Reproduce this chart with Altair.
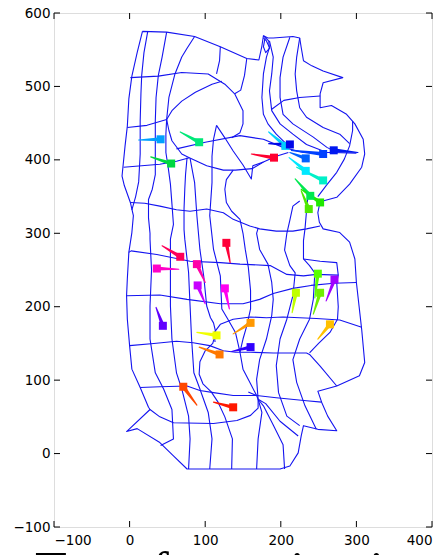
import altair as alt
import pandas as pd

# ---------------- mesh polylines (data units) ----------------
outline = [(17,575),(10,546),(3,514),(-1,483),(-3,446),(-6,419),(-10,378),(-7,365),(1,342),(5,324),(3,301),(-1,274),(-3,238),(-4,215),(-3,183),(0,147),(3,115),(14,90),(25,63),(27,60),(-4,30),(10,34),(40,15),(58,-3),(76,-21),(140,-21),(199,-21),(212,-17),(223,1),(227,24),(230,38),(249,33),(274,31),(262,51),(254,70),(249,85),(274,92),(304,106),(311,124),(307,169),(300,233),(298,265),(291,288),(278,301),(256,306),(251,315),(249,328),(252,343),(274,349),(291,367),(307,390),(311,408),(309,428),(298,449),(287,462),(267,474),(252,471),(252,490),(256,505),(282,512),(256,521),(241,528),(230,535),(227,553),(225,566),(216,568),(190,566),(183,566),(177,569),(175,555),(171,536),(155,538),(120,554),(86,568),(49,574),(17,575)]
stripe_loop = [(177,569),(184,562),(185,552),(180,546),(177,554),(179,565)]
col_a = [(24,575),(19,546),(16,515),(15,490),(14,453),(14,408),(12,370),(8,350),(3,332)]
col1 = [(49,574),(43,540),(38,515),(35,485),(34,453),(34,408),(34,380),(30,360),(25,346),(25,321),(27,300),(27,292),(29,250),(27,201),(27,156),(34,110),(45,88),(56,60),(58,20),(41,11)]
col2 = [(86,568),(76,552),(69,540),(60,517),(52,485),(49,455),(48,435),(48,410),(51,390),(54,367),(56,340),(58,312),(54,292),(54,247),(54,201),(56,156),(62,110),(69,88),(78,51),(80,20),(78,-21)]
col3 = [(76,403),(74,380),(73,360),(72,333),(72,305),(73,292),(78,247),(80,201),(82,156),(85,110),(93,88),(104,56),(109,20),(106,-21)]
col4 = [(80,402),(86,369),(89,324),(93,278),(98,242),(102,201),(107,185),(111,178),(114,165),(110,150),(100,140),(93,125),(92,108),(97,95),(108,84),(117,70),(126,50),(136,20),(135,-21)]
col5 = [(115,447),(111,428),(109,405),(109,369),(106,324),(111,278),(120,242),(122,197),(130,183),(140,165),(146,138),(150,115),(160,95),(168,79),(170,74),(175,56),(170,20),(168,-21)]
col6 = [(146,319),(150,300),(153,278),(157,254),(160,222),(160,197),(155,174),(150,156),(146,138)]
col7 = [(170,307),(168,300),(172,278),(183,258),(188,233),(190,210),(188,188),(181,156),(172,128),(168,101),(170,74),(177,65),(190,39),(203,12),(205,-21)]
col8 = [(225,344),(216,337),(212,318),(208,300),(205,277),(212,256),(219,246),(216,215),(208,183),(199,156),(194,120),(197,83),(208,51),(225,38)]
col9 = [(236,352),(234,330),(232,306),(230,290),(230,265),(238,256),(245,246),(243,210),(238,183),(225,156),(216,128),(221,97),(232,65),(247,33)]
box = [(230,265),(252,262),(274,260),(276,243),(274,233),(276,200),(275,183),(265,165),(250,150),(238,137)]
star1 = [(170,74),(180,68),(199,44),(223,24)]
star2 = [(157,84),(168,79)]
top3 = [(120,554),(119,535),(115,517)]
top4 = [(155,538),(152,515),(147,495),(139,490)]
row_a = [(1,512),(38,514),(69,519),(104,517),(126,503),(139,490),(150,467),(150,449),(146,437),(135,430)]
heart_top = [(49,455),(56,467),(69,480),(87,492),(109,503),(122,507)]
row_b = [(-3,444),(23,447),(49,455)]
heart_bot = [(49,455),(52,440),(56,426),(69,408),(79,403)]
row_c = [(-8,390),(16,392),(40,394),(62,398),(79,403),(102,392),(124,386),(140,386),(162,388),(177,397),(194,405),(210,410)]
straight = [(62,415),(100,424),(146,433),(177,428),(203,417),(230,410),(269,410),(300,409)]
zig = [(115,447),(126,430),(137,412),(150,393),(161,374),(163,392),(177,397)]
loop = [(137,386),(128,373),(126,360),(128,342),(135,330),(146,319)]
row_d = [(1,342),(20,341),(40,337),(62,332),(80,330),(102,333),(124,328),(137,319),(159,310),(172,306),(194,303),(216,303),(234,306),(252,310)]
row_e = [(-1,274),(2,276),(36,271),(80,262),(120,260),(146,258),(186,256),(208,244),(230,242),(247,244),(276,243)]
row_f = [(-4,215),(40,216),(76,210),(120,204),(150,204),(172,210),(190,218),(216,225),(240,229),(270,232),(300,233)]
row_g = [(113,152),(112,165),(120,176),(137,183),(160,186),(181,185),(203,186),(247,184),(278,182),(307,172)]
row_h = [(0,147),(32,150),(62,153),(84,151),(106,147),(124,140),(140,138),(160,138),(190,137),(234,137),(238,135),(252,119),(274,92)]
row_i = [(14,90),(40,91),(76,92),(93,86),(111,83),(137,79),(168,79),(194,76),(234,72),(254,70)]
row_j = [(27,60),(40,50),(58,42),(111,41),(142,45),(160,52),(170,62),(170,74)]
s1 = [(177,566),(181,562),(185,553),(181,540),(177,517),(175,485),(177,462),(183,449),(194,435),(208,421)]
s2 = [(185,562),(190,540),(188,517),(185,494),(188,467),(199,449),(216,435),(234,421),(256,412)]
s3 = [(212,567),(203,540),(199,512),(199,485),(203,462),(216,449),(243,431),(261,417),(274,410)]
s4 = [(225,566),(221,540),(219,517),(221,494),(225,471),(234,458),(256,444),(278,435),(291,422)]
row_r = [(188,469),(204,481),(225,485),(252,487)]
right_inner = [(295,453),(295,440),(291,419),(284,401),(274,383),(260,365),(249,350)]

mesh_lines = {
    "outline": outline, "stripe_loop": stripe_loop, "col_a": col_a, "col1": col1,
    "col2": col2, "col3": col3, "col4": col4, "col5": col5, "col6": col6,
    "col7": col7, "col8": col8, "col9": col9, "box": box, "star1": star1,
    "star2": star2, "top3": top3, "top4": top4, "row_a": row_a,
    "heart_top": heart_top, "row_b": row_b, "heart_bot": heart_bot,
    "row_c": row_c, "straight": straight, "zig": zig, "loop": loop,
    "row_d": row_d, "row_e": row_e, "row_f": row_f, "row_g": row_g,
    "row_h": row_h, "row_i": row_i, "row_j": row_j, "s1": s1, "s2": s2,
    "s3": s3, "s4": s4, "row_r": row_r, "right_inner": right_inner,
}

# ---------------- arrows: head (square) and tail tip ----------------
head_x = [206, 41, 92, 55, 212, 191, 233, 256, 270, 233, 256, 239, 252, 237,
          67, 128, 89, 36, 90, 126, 44, 115, 119, 71, 137, 160, 160, 220, 249, 252, 271, 265]
head_y = [419, 428, 424, 395, 421, 403, 402, 408, 413, 385, 372, 351, 342, 333,
          268, 287, 258, 252, 229, 225, 174, 161, 135, 91, 63, 178, 145, 219, 245, 219, 237, 176]
tip_x = [184, 12, 67, 28, 184, 161, 212, 214, 302, 211, 221, 219, 227, 227,
         43, 133, 100, 65, 100, 132, 35, 89, 92, 89, 111, 137, 135, 215, 245, 243, 260, 249]
tip_y = [438, 427, 438, 404, 422, 408, 410, 413, 410, 403, 390, 374, 360, 358,
         283, 260, 233, 251, 204, 197, 199, 165, 145, 66, 70, 163, 139, 192, 212, 190, 208, 156]
arrow_colors = ["#00d0ff", "#00a0ff", "#00e878", "#00d840", "#0008e8", "#ff0030",
                "#0060ff", "#0040ff", "#0018f0", "#00e8ff", "#00f0c8", "#00e850",
                "#20e800", "#50e800", "#ff0058", "#ff0038", "#ff00a8", "#ff00c8",
                "#c800ff", "#ff00f0", "#6000ff", "#f0ff00", "#ff7800", "#ff4800",
                "#ff1800", "#ff9800", "#3000ff", "#c0ff00", "#58ff00", "#70f000",
                "#a000ff", "#ffc000"]

x_ticks = [-100, 0, 100, 200, 300, 400]
y_ticks = [-100, 0, 100, 200, 300, 400, 500, 600]
caption = "Transformation in time"

# ---------------- build tables ----------------
rows = []
for name, pts in mesh_lines.items():
    for i, (px, py) in enumerate(pts):
        rows.append({"line": name, "i": i, "x": px, "y": py})
mesh_df = pd.DataFrame(rows)

ids = [f"a{k:02d}" for k in range(len(head_x))]
tail_rows = []
for k in range(len(head_x)):
    tail_rows.append({"id": ids[k], "i": 0, "x": head_x[k], "y": head_y[k], "w": 5.5})
    tail_rows.append({"id": ids[k], "i": 1, "x": tip_x[k], "y": tip_y[k], "w": 0.3})
tail_df = pd.DataFrame(tail_rows)
head_df = pd.DataFrame({"id": ids, "x": head_x, "y": head_y})

W, H = 378, 514
xs = alt.Scale(domain=[-100, 400], nice=False, zero=False)
ys = alt.Scale(domain=[-100, 600], nice=False, zero=False)
cscale = alt.Scale(domain=ids, range=arrow_colors)

xaxis = alt.Axis(values=x_ticks, grid=False, ticks=False, domain=False, labelFont="DejaVu Sans",
                 labelFontSize=13.5, labelColor="#000000", labelPadding=6, title=None)
yaxis = alt.Axis(values=y_ticks, grid=False, ticks=False, domain=False, labelFont="DejaVu Sans",
                 labelFontSize=13.5, labelColor="#000000", labelPadding=4, title=None)

mesh = alt.Chart(mesh_df).mark_line(color="#1414f0", strokeWidth=1.1, strokeJoin="round").encode(
    x=alt.X("x:Q", scale=xs, axis=xaxis),
    y=alt.Y("y:Q", scale=ys, axis=yaxis),
    detail="line:N",
    order="i:Q",
)

tails = alt.Chart(tail_df).mark_trail().encode(
    x=alt.X("x:Q", scale=xs),
    y=alt.Y("y:Q", scale=ys),
    detail="id:N",
    order="i:Q",
    color=alt.Color("id:N", scale=cscale, legend=None),
    size=alt.Size("w:Q", scale=alt.Scale(type="identity"), legend=None),
)

heads = alt.Chart(head_df).mark_square(size=64, opacity=1, filled=True).encode(
    x=alt.X("x:Q", scale=xs),
    y=alt.Y("y:Q", scale=ys),
    color=alt.Color("id:N", scale=cscale, legend=None),
)

xt = pd.DataFrame({"t": x_ticks})
yt = pd.DataFrame({"t": y_ticks})
tick_style = dict(color="#000000", strokeWidth=1)
xtick_bot = alt.Chart(xt).mark_rule(**tick_style).encode(x=alt.X("t:Q", scale=xs), y=alt.value(H), y2=alt.value(H - 6))
xtick_top = alt.Chart(xt).mark_rule(**tick_style).encode(x=alt.X("t:Q", scale=xs), y=alt.value(0), y2=alt.value(6))
ytick_l = alt.Chart(yt).mark_rule(**tick_style).encode(y=alt.Y("t:Q", scale=ys), x=alt.value(0), x2=alt.value(6))
ytick_r = alt.Chart(yt).mark_rule(**tick_style).encode(y=alt.Y("t:Q", scale=ys), x=alt.value(W), x2=alt.value(W - 6))

chart = alt.layer(mesh, tails, heads, xtick_bot, xtick_top, ytick_l, ytick_r).properties(
    width=W, height=H,
    autosize=alt.AutoSizeParams(type="none"),
    padding={"left": 46, "top": 5, "right": 7, "bottom": 34},
    title=alt.TitleParams(caption, orient="bottom", anchor="start", frame="group",
                          font="Liberation Serif", fontSize=52, fontWeight="normal",
                          color="#000000", dx=-19, offset=0),
).configure_view(stroke="#000000", strokeWidth=1).configure(background="white")

chart.save("out.html", embed_options={"renderer": "svg", "actions": False})
